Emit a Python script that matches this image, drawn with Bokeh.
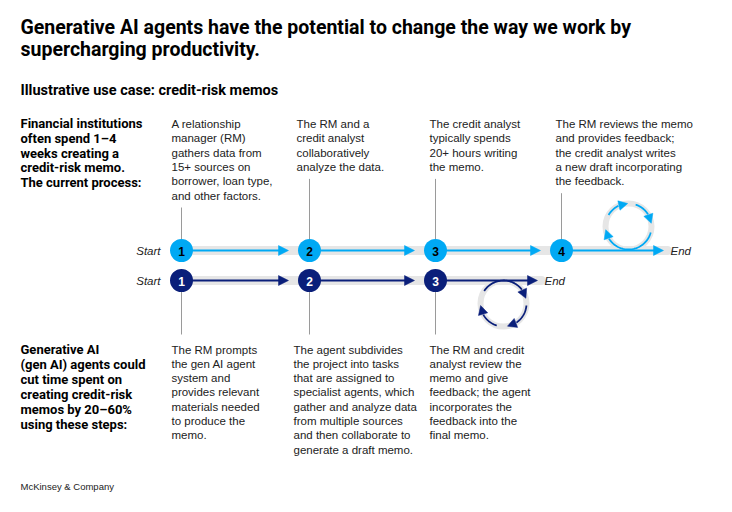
import numpy as np
from bokeh.plotting import figure
from bokeh.models import Range1d
from bokeh.core.properties import value
from bokeh.embed import file_html
from bokeh.resources import INLINE

# ---------------- content ----------------
title_lines = ["Generative AI agents have the potential to change the way we work by",
               "supercharging productivity."]
subtitle = "Illustrative use case: credit-risk memos"
current_intro = ["Financial institutions", "often spend 1\u20134", "weeks creating a",
                 "credit-risk memo.", "The current process:"]
genai_intro = ["Generative AI", "(gen AI) agents could", "cut time spent on",
               "creating credit-risk", "memos by 20\u201360%", "using these steps:"]
current_steps = [
    ["A relationship", "manager (RM)", "gathers data from", "15+ sources on",
     "borrower, loan type,", "and other factors."],
    ["The RM and a", "credit analyst", "collaboratively", "analyze the data."],
    ["The credit analyst", "typically spends", "20+ hours writing", "the memo."],
    ["The RM reviews the memo", "and provides feedback;", "the credit analyst writes",
     "a new draft incorporating", "the feedback."],
]
genai_steps = [
    ["The RM prompts", "the gen AI agent", "system and", "provides relevant",
     "materials needed", "to produce the", "memo."],
    ["The agent subdivides", "the project into tasks", "that are assigned to",
     "specialist agents, which", "gather and analyze data", "from multiple sources",
     "and then collaborate to", "generate a draft memo."],
    ["The RM and credit", "analyst review the", "memo and give", "feedback; the agent",
     "incorporates the", "feedback into the", "final memo."],
]
current_numbers = ["1", "2", "3", "4"]
genai_numbers = ["1", "2", "3"]
start_label, end_label = "Start", "End"
source_note = "McKinsey & Company"

# ---------------- layout / style ----------------
W, H = 716, 496
CYAN = "#00a9f4"
NAVY = "#0a1f7a"
BAND = "#e6e6e6"
TXT = "#222222"
BODY_FONT = "Liberation Sans"
HEAD_FONT = "Roboto"

top_y, bot_y = 250, 280
col_x = [181, 309, 435, 561]
top_text_x = [171, 296, 429, 555]
bot_text_x = [171, 293, 429]
top_end_x, bot_end_x = 663, 537
top_cycle = (628, 226)
bot_cycle = (503, 303)
cycle_r = 23
top_arcs = [(150, 92), (72, 8), (-15, -172)]
bot_arcs = [(147, 13), (-5, -80), (-107, -175)]

p = figure(width=W, height=H, x_range=Range1d(0, W), y_range=Range1d(H, 0),
           output_backend="svg", toolbar_location=None, min_border=0,
           x_axis_type=None, y_axis_type=None)
p.grid.visible = False
p.outline_line_color = None
p.background_fill_color = "white"
p.border_fill_color = "white"


def texts(xs, ys, labels, size, color=TXT, style="normal", font=BODY_FONT, align="left"):
    p.text(x=xs, y=ys, text=labels, text_font=value(font), text_font_size=value(size),
           text_color=color, text_font_style=value(style), text_align=align,
           text_baseline="middle")


def block(x, y0, lines, lh, **kw):
    texts([x] * len(lines), [y0 + i * lh for i in range(len(lines))], lines, **kw)


def head(tip, d, L=9.0, w=4.6, color=CYAN):
    d = np.asarray(d, float)
    d = d / np.hypot(*d)
    n = np.array([-d[1], d[0]])
    tip = np.asarray(tip, float)
    b = tip - L * d
    pts = [tip, b + w * n, b - w * n]
    p.patch([q[0] for q in pts], [q[1] for q in pts], fill_color=color, line_color=color, line_width=0.5)


# titles
block(20, 27, title_lines, 22, size="19.5px", style="bold", font=HEAD_FONT, color="#000000")
texts([20], [90], [subtitle], size="14.5px", style="bold", font=HEAD_FONT, color="#000000")

# intros
block(20, 123, current_intro, 14.8, size="13px", style="bold", font=HEAD_FONT, color="#000000")
block(20, 349, genai_intro, 15, size="13px", style="bold", font=HEAD_FONT, color="#000000")

# step descriptions + connector lines
LH = 14.3
for i, lines in enumerate(current_steps):
    block(top_text_x[i], 123.5, lines, LH, size="11.5px")
    y_start = 123.5 + (len(lines) - 1) * LH + 12
    p.segment(x0=[col_x[i]], y0=[y_start], x1=[col_x[i]], y1=[top_y], line_color="#9a9a9a", line_width=1)
for i, lines in enumerate(genai_steps):
    block(bot_text_x[i], 349, lines, LH, size="11.5px")
    p.segment(x0=[col_x[i]], y0=[bot_y], x1=[col_x[i]], y1=[334], line_color="#9a9a9a", line_width=1)

# gray bands
p.segment(x0=[col_x[0], col_x[0]], y0=[top_y, bot_y], x1=[top_end_x + 4, bot_end_x + 4], y1=[top_y, bot_y],
          line_color=BAND, line_width=9, line_cap="round")

# cycles (gray ring)
p.circle(x=[top_cycle[0], bot_cycle[0]], y=[top_cycle[1], bot_cycle[1]], radius=cycle_r,
         fill_alpha=0, line_color=BAND, line_width=6)


def cycle(center, arcs, color):
    cx, cy = center
    for a0, tip in arcs:
        base = tip + 22
        th = np.radians(np.linspace(a0, base + 2, 40))
        p.line(cx + cycle_r * np.cos(th), cy - cycle_r * np.sin(th), line_color=color, line_width=1.8)
        t = np.radians(tip)
        b = np.radians(base)
        tipp = (cx + cycle_r * np.cos(t), cy - cycle_r * np.sin(t))
        basep = (cx + cycle_r * np.cos(b), cy - cycle_r * np.sin(b))
        head(tipp, (tipp[0] - basep[0], tipp[1] - basep[1]), L=9, w=4.8, color=color)


cycle(top_cycle, top_arcs, CYAN)
cycle(bot_cycle, bot_arcs, NAVY)


def flow(y, n, end_x, color):
    tips = [col_x[i + 1] - 21 for i in range(n - 1)] + [end_x]
    for i in range(n):
        p.segment(x0=[col_x[i]], y0=[y], x1=[tips[i] - 6], y1=[y], line_color=color, line_width=1.8)
        head((tips[i], y), (1, 0), L=10, w=5, color=color)


flow(top_y, len(current_numbers), top_end_x, CYAN)
flow(bot_y, len(genai_numbers), bot_end_x, NAVY)

# step circles
n1, n2 = len(current_numbers), len(genai_numbers)
p.circle(x=col_x[:n1], y=[top_y] * n1, radius=11.5, fill_color=CYAN, line_color=None)
p.circle(x=col_x[:n2], y=[bot_y] * n2, radius=11.5, fill_color=NAVY, line_color=None)
texts(col_x[:n1], [top_y + 0.5] * n1, current_numbers, size="12px", style="bold", color="#000000", align="center")
texts(col_x[:n2], [bot_y + 0.5] * n2, genai_numbers, size="12px", style="bold", color="#ffffff", align="center")

# start / end labels
texts([160, 160], [top_y, bot_y], [start_label, start_label], size="11.5px", style="italic", align="right")
texts([670, 544], [top_y, bot_y], [end_label, end_label], size="11.5px", style="italic")

# source
texts([20], [486], [source_note], size="9.5px")

open("out.html", "w").write(file_html(p, INLINE))
